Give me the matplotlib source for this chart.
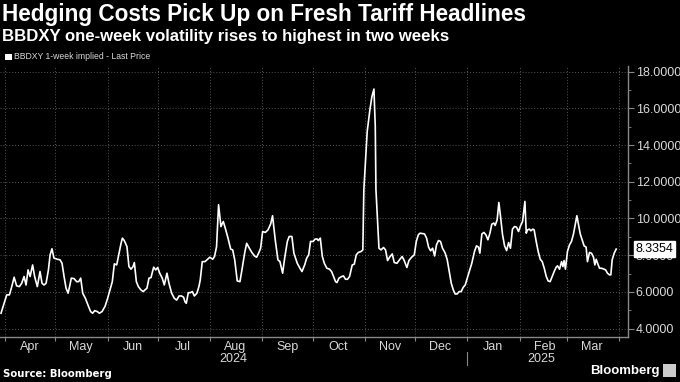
import numpy as np
import pandas as pd
import matplotlib
matplotlib.use("Agg")
import matplotlib.pyplot as plt
import matplotlib.dates as mdates
import matplotlib.ticker as mticker
import matplotlib.transforms as mtransforms
from matplotlib.lines import Line2D

# Dane: dni od 2024-04-01 i poziom zmiennosci BBDXY 1W
start = pd.Timestamp("2024-04-01")
days = [
    -2.4, 0.0, 1.0, 2.6, 4.0, 5.4, 6.9, 8.5, 9.9, 11.3, 12.5, 13.7, 14.9, 16.4, 17.6,
    19.2, 20.8, 22.0, 23.2, 24.4, 25.8, 26.8, 27.9, 29.1, 31.1, 32.7, 33.9, 35.1, 36.3,
    37.5, 38.6, 39.4, 41.0, 42.6, 43.8, 45.0, 46.2, 47.8, 49.3, 50.9, 52.1, 53.3, 54.9,
    56.1, 57.7, 59.5, 61.0, 62.4, 63.8, 65.0, 66.4, 67.8, 69.0, 69.8, 70.9, 72.5, 73.7,
    74.9, 76.1, 76.9, 78.1, 79.3, 80.8, 82.2, 83.2, 84.4, 85.6, 86.8, 88.4, 89.6, 90.8,
    92.0, 93.5, 94.7, 96.3, 97.5, 99.1, 100.7, 102.1, 103.5, 105.0, 106.2, 107.0, 107.8,
    109.0, 110.2, 111.4, 112.6, 114.1, 115.3, 116.1, 117.3, 118.9, 120.1, 121.8, 123.5,
    124.6, 125.8, 127.0, 128.4, 129.8, 131.0, 132.6, 134.2, 135.4, 136.6, 138.1, 139.7,
    140.9, 142.5, 143.7, 145.3, 146.8, 148.4, 149.6, 150.8, 152.0, 153.2, 154.8, 156.4,
    158.0, 159.1, 160.7, 162.3, 163.5, 165.1, 166.3, 167.9, 169.0, 170.6, 171.8, 173.8,
    175.4, 176.6, 178.2, 179.4, 180.6, 181.7, 183.3, 184.3, 185.5, 186.3, 187.5, 188.7,
    189.9, 191.4, 193.0, 194.2, 195.4, 196.6, 197.4, 198.6, 200.2, 201.3, 202.5, 203.7,
    204.9, 206.5, 207.7, 208.9, 210.1, 211.7, 212.8, 213.4, 215.4, 217.0, 218.2, 219.4,
    220.2, 220.6, 222.4, 223.6, 225.1, 226.3, 227.5, 228.7, 230.3, 231.5, 233.1, 234.6,
    236.2, 237.4, 239.0, 240.2, 241.8, 243.4, 244.6, 245.8, 246.8, 248.3, 249.5, 250.7,
    251.9, 253.1, 254.3, 255.5, 256.6, 257.8, 259.0, 260.2, 261.8, 263.0, 264.2, 265.4,
    266.6, 267.7, 268.9, 270.1, 271.3, 272.5, 273.7, 274.9, 276.1, 277.6, 279.2, 280.4,
    281.6, 282.4, 283.6, 284.8, 286.0, 287.2, 288.4, 289.5, 290.7, 291.5, 292.7, 293.7,
    294.7, 295.9, 297.1, 298.3, 299.5, 300.6, 301.8, 303.0, 304.2, 305.4, 306.6, 307.8,
    309.2, 310.0, 310.7, 311.9, 312.7, 313.9, 314.7, 315.9, 317.1, 318.3, 319.5, 320.7,
    321.9, 323.0, 324.2, 325.4, 326.6, 327.8, 328.6, 329.8, 331.0, 331.8, 332.5, 333.3,
    334.5, 335.7, 336.9, 338.1, 339.3, 340.1, 340.9, 342.1, 343.2, 344.4, 345.6, 346.4,
    347.6, 348.8, 350.0, 350.8, 351.6, 352.8, 353.6, 354.8, 356.0, 357.2, 358.3, 359.5,
    360.3, 361.1, 362.3, 363.5,
]
values = [
    4.84, 5.56, 5.84, 5.84, 6.29, 6.80, 6.33, 6.29, 6.47, 6.84, 6.38, 7.20, 6.84, 7.47, 6.84,
    6.29, 7.11, 6.47, 6.38, 6.47, 7.20, 8.02, 8.35, 7.84, 7.78, 7.75, 7.56, 6.84, 6.20,
    5.93, 6.38, 6.75, 6.73, 6.56, 6.56, 6.75, 5.93, 5.65, 5.29, 4.93, 4.84, 4.98, 4.93,
    4.84, 4.93, 5.22, 5.65, 6.11, 6.56, 7.53, 7.47, 8.11, 8.65, 8.93, 8.80, 8.47, 7.38,
    7.24, 7.38, 7.60, 6.56, 6.29, 6.11, 6.02, 6.11, 6.20, 6.75, 6.78, 7.35, 7.20, 7.33,
    7.02, 6.75, 6.38, 7.02, 6.47, 5.93, 5.65, 5.56, 5.78, 5.78, 5.71, 5.47, 5.38,
    5.96, 5.96, 6.02, 5.78, 5.93, 6.29, 6.65, 7.65, 7.65, 7.75, 7.89, 7.78,
    7.93, 8.47, 10.75, 9.56, 9.84, 9.47, 8.93, 8.33, 8.29, 7.75, 6.60, 6.56,
    7.20, 8.11, 8.65, 8.38, 8.15, 7.96, 7.89, 8.11, 8.38, 9.29, 9.24, 9.38,
    9.71, 10.15, 8.84, 7.75, 7.65, 7.02, 7.84, 8.75, 9.02, 9.02, 8.11, 7.56,
    7.29, 7.11, 7.47, 7.84, 8.02, 8.75, 8.75, 8.87, 8.89, 8.80, 8.93, 7.93,
    7.56, 7.29, 7.24, 7.11, 6.84, 6.56, 6.51, 6.75, 6.84, 6.87, 6.69, 6.69,
    6.84, 7.47, 7.51, 8.02, 8.15, 8.20, 8.29, 11.56, 14.74, 15.92, 16.64, 17.05,
    15.01, 11.56, 8.38, 8.29, 8.42, 8.29, 7.71, 7.89, 8.07, 7.60, 7.56, 7.75,
    7.93, 7.71, 7.33, 7.71, 7.89, 8.02, 8.75, 9.11, 9.20, 9.18, 9.16, 8.93,
    8.44, 8.24, 8.38, 7.96, 8.56, 8.80, 8.75, 8.38, 8.11, 7.75, 7.11, 6.47,
    6.11, 5.89, 5.89, 6.02, 6.02, 6.25, 6.38, 6.75, 7.11, 7.56, 8.20, 8.51,
    8.44, 8.11, 9.16, 9.24, 9.11, 8.84, 9.20, 9.69, 9.75, 9.62, 9.93, 10.87,
    10.11, 9.11, 8.51, 8.25, 8.69, 8.38, 9.42, 9.56, 9.53, 9.29, 9.60, 9.84,
    10.93, 9.20, 9.38, 9.42, 9.33, 9.42, 9.38, 8.75, 8.20, 7.78, 7.65, 7.29,
    6.84, 6.60, 6.56, 6.84, 7.11, 7.35, 7.42, 7.24, 7.65, 7.38, 7.71, 7.24,
    8.20, 8.56, 8.75, 9.16, 9.75, 10.15, 9.75, 9.16, 8.84, 8.51, 8.44, 7.65,
    8.15, 8.11, 7.89, 7.47, 7.78, 7.47, 7.29, 7.29, 7.25, 7.20, 7.02, 6.93,
    6.93, 7.75, 8.11, 8.3354,
]
last_value = "8.3354"
year_labels = [("2024-08-15", "2024"), ("2025-02-14", "2025")]

dates = start + pd.to_timedelta(days, unit="D")

bg = "black"
fg = "white"
grid_col = "#555555"
tick_col = "#d9d9d9"
tick_font = "Liberation Sans"

fig = plt.figure(figsize=(6.8, 3.82), dpi=100, facecolor=bg)
ax = fig.add_axes([0.0, 0.118, 0.9235, 0.709], facecolor=bg)

ax.plot(dates, values, color=fg, lw=1.2)

ax.set_xlim(start + pd.Timedelta(days=-3), start + pd.Timedelta(days=370.5))
ax.set_ylim(3.55, 18.3)

# Os X: granice miesiecy jako ticki, nazwy na srodku miesiaca
ax.xaxis.set_major_locator(mdates.MonthLocator())
ax.xaxis.set_major_formatter(mticker.NullFormatter())
ax.xaxis.set_minor_locator(mdates.MonthLocator(bymonthday=16))
ax.xaxis.set_minor_formatter(mdates.DateFormatter("%b"))
ax.tick_params(axis="x", which="major", length=3, color="#888888", direction="out")
ax.tick_params(axis="x", which="minor", length=0, colors=tick_col, labelsize=9, pad=3)

# Os Y po prawej stronie
ax.yaxis.tick_right()
ax.yaxis.set_major_locator(mticker.MultipleLocator(2))
ax.yaxis.set_minor_locator(mticker.MultipleLocator(1))
ax.yaxis.set_major_formatter(mticker.FormatStrFormatter("%.4f"))
ax.tick_params(axis="y", which="major", length=4, color="#888888", colors=tick_col,
               labelsize=9, pad=1.5)
ax.tick_params(axis="y", which="minor", length=2, color="#888888")
for lab in ax.get_xticklabels(minor=True) + ax.get_yticklabels():
    lab.set_family(tick_font)

ax.grid(True, which="major", color=grid_col, ls=(0, (1, 2)), lw=0.7)
for s in ["top", "left"]:
    ax.spines[s].set_visible(False)
for s in ["bottom", "right"]:
    ax.spines[s].set_color("#888888")
    ax.spines[s].set_linewidth(1.0)

# Lata pod osia
trans = mtransforms.blended_transform_factory(ax.transData, ax.transAxes)
for d, lab in year_labels:
    ax.text(pd.Timestamp(d), -0.058, lab, transform=trans, ha="center", va="top",
            color=tick_col, fontsize=9, family=tick_font)
ax.add_line(Line2D([pd.Timestamp("2025-01-01")] * 2, [-0.055, -0.103], transform=trans,
                   color="#888888", lw=0.8, clip_on=False))

# Etykieta ostatniej wartosci
ytrans = mtransforms.blended_transform_factory(ax.transAxes, ax.transData)
ax.text(1.012, values[-1], last_value, transform=ytrans, ha="left", va="center",
        color="black", fontsize=9, family=tick_font, zorder=10,
        bbox=dict(boxstyle="square,pad=0.15", fc="white", ec="white"))

# Tytuly i legenda
fig.text(0.003, 0.962, "Hedging Costs Pick Up on Fresh Tariff Headlines", color=fg,
         fontsize=16.3, fontweight="bold", family="Liberation Sans", va="center")
fig.text(0.003, 0.905, "BBDXY one-week volatility rises to highest in two weeks", color=fg,
         fontsize=12.1, fontweight="bold", family="Liberation Sans", va="center")
fig.patches.append(plt.Rectangle((0.008, 0.842), 0.009, 0.017, transform=fig.transFigure,
                                 fc="white", ec="none"))
fig.text(0.02, 0.851, "BBDXY 1-week implied - Last Price", color=tick_col, fontsize=6.2,
         family="Liberation Sans", va="center")

fig.text(0.005, 0.022, "Source: Bloomberg", color=fg, fontsize=7.3, fontweight="bold",
         va="center")
fig.text(0.97, 0.028, "Bloomberg", color=fg, fontsize=9.5, fontweight="bold",
         family="Liberation Sans", ha="right", va="center")
fig.patches.append(plt.Rectangle((0.975, 0.012), 0.019, 0.034, transform=fig.transFigure,
                                 fc="#cccccc", ec="none"))

fig.savefig("out.png", dpi=100, facecolor=bg)
